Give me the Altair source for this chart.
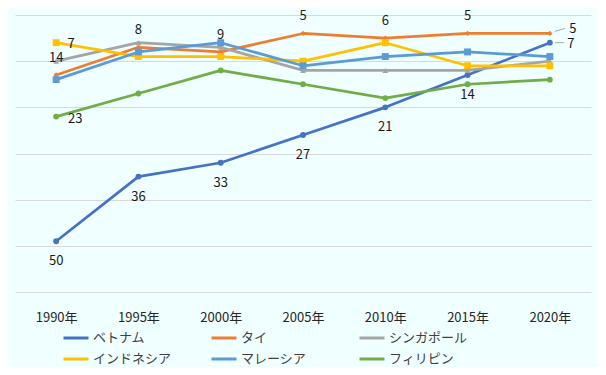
import altair as alt
import pandas as pd

FONT = "Noto Sans CJK JP"

years = ["1990年", "1995年", "2000年", "2005年", "2010年", "2015年", "2020年"]
countries = ["ベトナム", "タイ", "シンガポール", "インドネシア", "マレーシア", "フィリピン"]
colors = ["#4472C4", "#ED7D31", "#A5A5A5", "#FFC000", "#5B9BD5", "#70AD47"]
shapes = ["circle", "diamond", "triangle-up", "square", "square", "circle"]
msizes = [34, 28, 34, 48, 48, 34]

vietnam = [50, 36, 33, 27, 21, 14, 7]
thailand = [14, 8, 9, 5, 6, 5, 5]
singapore = [11, 7, 8, 13, 13, 13, 11]
indonesia = [7, 10, 10, 11, 7, 12, 12]
malaysia = [15, 9, 7, 12, 10, 9, 10]
philippines = [23, 18, 13, 16, 19, 16, 15]
series = [vietnam, thailand, singapore, indonesia, malaysia, philippines]

rows = []
for c, vals in zip(countries, series):
    for y, v in zip(years, vals):
        rows.append({"country": c, "year": y, "rank": v})
df = pd.DataFrame(rows)

x_enc = alt.X("year:N", sort=years,
              scale=alt.Scale(type="point", padding=0.5),
              axis=alt.Axis(title=None, domain=False, ticks=False, grid=False,
                            labelFont=FONT, labelFontSize=13, labelColor="#262626",
                            labelPadding=19, labelAngle=0))
y_enc = alt.Y("rank:Q",
              scale=alt.Scale(domain=[1, 61], reverse=True, nice=False, zero=False),
              axis=alt.Axis(title=None, labels=False, ticks=False, domain=False,
                            grid=True, gridColor="#D9D9D9", gridWidth=1,
                            values=list(range(1, 62, 10))))
color_enc = alt.Color("country:N",
                      scale=alt.Scale(domain=countries, range=colors),
                      legend=alt.Legend(title=None, orient="none", legendX=47, legendY=309,
                                        direction="horizontal",
                                        columns=3, symbolType="stroke", symbolSize=625,
                                        symbolStrokeWidth=3, labelFont=FONT, labelFontSize=13,
                                        labelColor="#404040", columnPadding=33, rowPadding=0,
                                        gridAlign="all", labelOffset=3, padding=0))

layers = []
for i, c in enumerate(countries):
    sub = alt.Chart(df).transform_filter(alt.datum.country == c)
    layers.append(sub.mark_line(strokeWidth=2.75, strokeCap="round", strokeJoin="round")
                  .encode(x=x_enc, y=y_enc, color=color_enc))
    layers.append(sub.mark_point(filled=True, shape=shapes[i], size=msizes[i], opacity=1,
                                 color=colors[i])
                  .encode(x=x_enc, y=y_enc))

txt = dict(font=FONT, fontSize=13, color="#1a1a1a", baseline="middle", align="center")
base = alt.Chart(df)
th = base.transform_filter(alt.datum.country == "タイ")
vn = base.transform_filter(alt.datum.country == "ベトナム")
last = alt.datum.year == years[-1]
first = alt.datum.year == years[0]

layers.append(th.transform_filter(~last).mark_text(dy=-17, **txt)
              .encode(x=x_enc, y=y_enc, text="rank:Q"))
layers.append(vn.transform_filter(~last).mark_text(dy=20, **txt)
              .encode(x=x_enc, y=y_enc, text="rank:Q"))
layers.append(th.transform_filter(last).mark_text(dx=23, dy=-4, **txt)
              .encode(x=x_enc, y=y_enc, text="rank:Q"))
layers.append(vn.transform_filter(last).mark_text(dx=21, dy=1, **txt)
              .encode(x=x_enc, y=y_enc, text="rank:Q"))
layers.append(base.transform_filter((alt.datum.country == "インドネシア") & first)
              .mark_text(dx=15, dy=1, **txt).encode(x=x_enc, y=y_enc, text="rank:Q"))
layers.append(base.transform_filter((alt.datum.country == "フィリピン") & first)
              .mark_text(dx=19, dy=2, **txt).encode(x=x_enc, y=y_enc, text="rank:Q"))
# leader lines for the 2020 labels
layers.append(th.transform_filter(last)
              .mark_rule(color="#A6A6A6", strokeWidth=1, xOffset=5, x2Offset=15,
                         yOffset=-2, y2Offset=-5)
              .encode(x=x_enc, x2="year:N", y=y_enc, y2="rank:Q"))
layers.append(vn.transform_filter(last)
              .mark_rule(color="#A6A6A6", strokeWidth=1, xOffset=5, x2Offset=14)
              .encode(x=x_enc, x2="year:N", y=y_enc, y2="rank:Q"))

chart = (alt.layer(*layers)
         .properties(width=576, height=277,
                     autosize=alt.AutoSizeParams(type="none"),
                     padding={"left": 7, "top": 7, "right": 7, "bottom": 75},
                     background="#F0FFFF")
         .configure_view(strokeWidth=0))

chart.save("out.html", embed_options={"renderer": "svg", "actions": False})
